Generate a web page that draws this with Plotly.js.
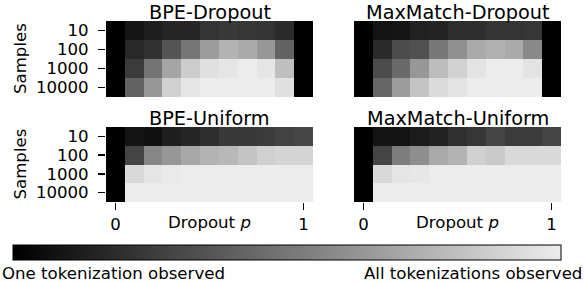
<!DOCTYPE html>
<html><head><meta charset="utf-8">
<script src="https://cdn.plot.ly/plotly-3.0.1.min.js"></script>
<style>html,body{margin:0;padding:0;background:#fff;}#chart{width:584px;height:282px;}</style>
</head><body><div id="chart"></div>
<script>
// Data (fraction of tokenizations observed, 0..1)
const dropoutP = [0, 0.1, 0.2, 0.3, 0.4, 0.5, 0.6, 0.7, 0.8, 0.9, 1.0];
const samples = ["10", "100", "1000", "10000"];
const panelTitles = ["BPE-Dropout", "MaxMatch-Dropout", "BPE-Uniform", "MaxMatch-Uniform"];

const bpeDropout = [
  [0, 0.09, 0.13, 0.16, 0.16, 0.22, 0.24, 0.23, 0.22, 0.18, 0],
  [0, 0.17, 0.21, 0.36, 0.50, 0.66, 0.76, 0.72, 0.64, 0.42, 0],
  [0, 0.25, 0.49, 0.70, 0.87, 0.95, 0.97, 1.00, 0.97, 0.81, 0],
  [0, 0.42, 0.64, 0.88, 0.97, 1.00, 1.00, 1.00, 1.00, 0.95, 0]
];
const maxMatchDropout = [
  [0, 0.08, 0.09, 0.14, 0.15, 0.19, 0.19, 0.22, 0.22, 0.23, 0],
  [0, 0.18, 0.32, 0.34, 0.51, 0.61, 0.72, 0.75, 0.72, 0.58, 0],
  [0, 0.32, 0.45, 0.64, 0.80, 0.89, 0.96, 1.00, 1.00, 0.96, 0],
  [0, 0.43, 0.66, 0.83, 0.93, 0.96, 1.00, 1.00, 1.00, 1.00, 0]
];
const bpeUniform = [
  [0, 0.08, 0.07, 0.13, 0.16, 0.19, 0.24, 0.24, 0.25, 0.28, 0.30],
  [0, 0.29, 0.57, 0.64, 0.71, 0.76, 0.78, 0.83, 0.88, 0.90, 0.90],
  [0, 0.92, 0.97, 0.99, 1.00, 1.00, 1.00, 1.00, 1.00, 1.00, 1.00],
  [0, 1.00, 1.00, 1.00, 1.00, 1.00, 1.00, 1.00, 1.00, 1.00, 1.00]
];
const maxMatchUniform = [
  [0, 0.08, 0.08, 0.12, 0.14, 0.20, 0.23, 0.29, 0.25, 0.25, 0.29],
  [0, 0.29, 0.53, 0.60, 0.72, 0.76, 0.88, 0.85, 0.92, 0.92, 0.92],
  [0, 0.92, 0.97, 0.98, 1.00, 1.00, 1.00, 1.00, 1.00, 1.00, 1.00],
  [0, 1.00, 1.00, 1.00, 1.00, 1.00, 1.00, 1.00, 1.00, 1.00, 1.00]
];
const xTickVals = [0, 1];
const xTickText = ["0", "1"];
const xLabel = "Dropout <i>p</i>";
const yLabel = "Samples";
const cbLeftLabel = "One tokenization observed";
const cbRightLabel = "All tokenizations observed";

const W = 584, H = 282;
const px = x => x / W;
const py = y => 1 - y / H;
const FONT = "DejaVu Sans, sans-serif";
const FS = 16.6, TFS = 19.3;

// panel boxes in pixels [left, right, top, bottom]
const boxes = [
  [106, 313, 21, 97],
  [354, 561, 21, 97],
  [106, 313, 127, 202],
  [354, 561, 127, 202]
];
const zs = [bpeDropout, maxMatchDropout, bpeUniform, maxMatchUniform];

const traces = [];
const layout = {
  width: W, height: H,
  margin: {l: 0, r: 0, t: 0, b: 0},
  paper_bgcolor: "#fff", plot_bgcolor: "#fff",
  font: {family: FONT, size: FS, color: "#000"},
  showlegend: false,
  coloraxis: {
    cmin: 0, cmax: 1,
    colorscale: [[0, "rgb(0,0,0)"], [1, "rgb(236,236,236)"]],
    colorbar: {
      orientation: "h",
      x: px((13 + 561) / 2), xanchor: "center",
      y: py(245), yanchor: "top",
      len: 548, lenmode: "pixels",
      thickness: 15, thicknessmode: "pixels",
      outlinewidth: 1, outlinecolor: "#000",
      xpad: 0, ypad: 0,
      ticks: "", showticklabels: false
    }
  },
  annotations: []
};

for (let i = 0; i < 4; i++) {
  const n = i + 1;
  const xa = n === 1 ? "xaxis" : "xaxis" + n;
  const ya = n === 1 ? "yaxis" : "yaxis" + n;
  const b = boxes[i];
  const bottomRow = i >= 2, leftCol = (i % 2 === 0);
  traces.push({
    type: "heatmap",
    x: dropoutP, y: samples, z: zs[i],
    coloraxis: "coloraxis",
    xaxis: n === 1 ? "x" : "x" + n,
    yaxis: n === 1 ? "y" : "y" + n,
    hoverinfo: "skip"
  });
  layout[xa] = {
    domain: [px(b[0]), px(b[1])],
    anchor: n === 1 ? "y" : "y" + n,
    range: [-0.05, 1.05],
    showgrid: false, zeroline: false, showline: false,
    tickmode: "array", tickvals: xTickVals, ticktext: xTickText,
    ticks: bottomRow ? "outside" : "",
    showticklabels: bottomRow,
    ticklen: 7, tickwidth: 1.3, tickcolor: "#000",
    ticklabelstandoff: 0,
    tickfont: {family: FONT, size: FS, color: "#000"},
    fixedrange: true
  };
  layout[ya] = {
    domain: [py(b[3]), py(b[2])],
    anchor: n === 1 ? "x" : "x" + n,
    type: "category",
    autorange: "reversed",
    tickmode: "array", tickvals: samples, ticktext: samples,
    showgrid: false, zeroline: false, showline: false,
    ticks: leftCol ? "outside" : "",
    showticklabels: leftCol,
    ticklen: 7, tickwidth: 1.3, tickcolor: "#000",
    ticklabelstandoff: 6,
    tickfont: {family: FONT, size: FS, color: "#000"},
    fixedrange: true
  };
  // panel title
  layout.annotations.push({
    text: panelTitles[i], xref: "paper", yref: "paper",
    x: px((b[0] + b[1]) / 2), y: py(b[2] - 8.5), xanchor: "center", yanchor: "middle",
    showarrow: false, borderpad: 0,
    font: {family: FONT, size: TFS, color: "#000"}
  });
  if (leftCol) {
    layout.annotations.push({
      text: yLabel, xref: "paper", yref: "paper",
      x: px(20), y: py((b[2] + b[3]) / 2), xanchor: "center", yanchor: "middle",
      textangle: -90, showarrow: false,
      font: {family: FONT, size: FS, color: "#000"}
    });
  }
  if (bottomRow) {
    layout.annotations.push({
      text: xLabel, xref: "paper", yref: "paper",
      x: px((b[0] + b[1]) / 2), y: py(222), xanchor: "center", yanchor: "middle",
      showarrow: false,
      font: {family: FONT, size: FS, color: "#000"}
    });
  }
}
layout.annotations.push({
  text: cbLeftLabel, xref: "paper", yref: "paper",
  x: px(0), y: py(273.5), xanchor: "left", yanchor: "middle", showarrow: false,
  font: {family: FONT, size: FS, color: "#000"}
});
layout.annotations.push({
  text: cbRightLabel, xref: "paper", yref: "paper",
  x: px(584), y: py(273.5), xanchor: "right", yanchor: "middle", showarrow: false,
  font: {family: FONT, size: FS, color: "#000"}
});

Plotly.newPlot("chart", traces, layout, {staticPlot: true, displayModeBar: false});
</script>
</body></html>
